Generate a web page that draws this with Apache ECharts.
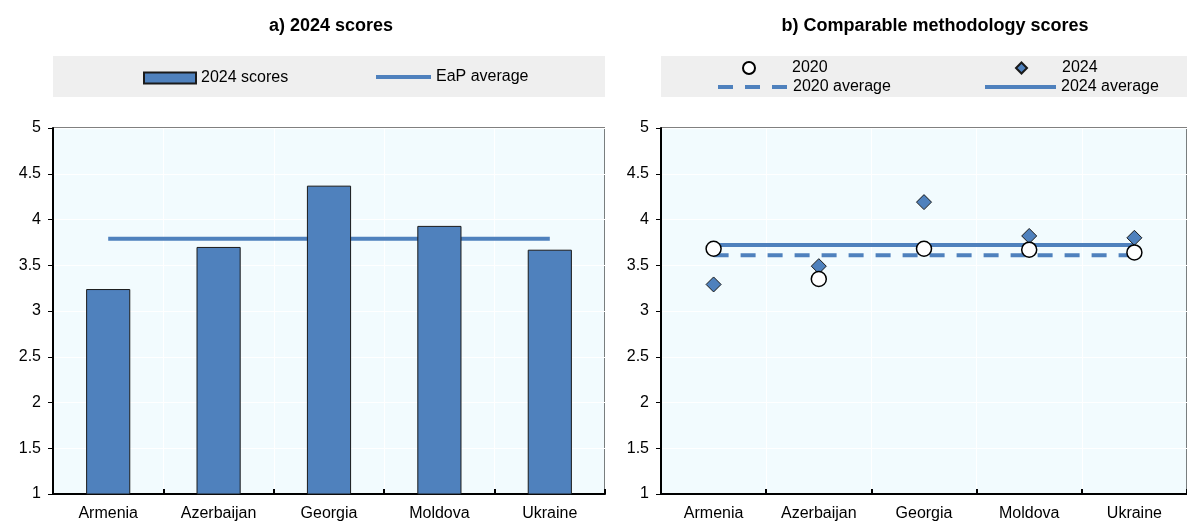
<!DOCTYPE html>
<html>
<head>
<meta charset="utf-8">
<script src="https://cdn.jsdelivr.net/npm/echarts@6/dist/echarts.min.js"></script>
<style>
html,body{margin:0;padding:0;background:#fff;}
#chart{width:1187px;height:522px;}
</style>
</head>
<body>
<div id="chart"></div>
<script>
const categories = ['Armenia', 'Azerbaijan', 'Georgia', 'Moldova', 'Ukraine'];
const scores2024 = [3.24, 3.70, 4.37, 3.93, 3.67];
const eapAverage = 3.79;
const comparable2020 = [3.68, 3.35, 3.68, 3.67, 3.64];
const comparable2024 = [3.29, 3.49, 4.19, 3.82, 3.80];
const average2020 = 3.61;
const average2024 = 3.72;
const yMin = 1, yMax = 5, yInterval = 0.5;
const titleA = 'a) 2024 scores';
const titleB = 'b) Comparable methodology scores';

const FONT = "'Liberation Sans', Arial, sans-serif";
const BLUE = '#4F81BD';
const PLOT_BG = '#F2FBFE';
const LEGEND_BG = '#EFEFEF';
const DASH = [15, 12];

const chart = echarts.init(document.getElementById('chart'), null, {renderer: 'canvas'});

function yAxis(gi) {
  return {
    type: 'value', gridIndex: gi, min: yMin, max: yMax, interval: yInterval,
    axisLine: {show: true, lineStyle: {color: '#000', width: 2}},
    axisTick: {show: true, inside: false, length: 5, lineStyle: {color: '#000', width: 1}},
    axisLabel: {color: '#000', fontSize: 16, fontFamily: FONT, margin: 12},
    splitLine: {show: true, lineStyle: {color: '#fff', width: 1}}
  };
}
function xAxis(gi) {
  return {
    type: 'category', gridIndex: gi, data: categories, boundaryGap: true,
    axisLine: {show: true, lineStyle: {color: '#000', width: 2}},
    axisTick: {show: true, inside: true, length: 5, interval: 0, lineStyle: {color: '#000', width: 2}},
    axisLabel: {color: '#000', fontSize: 16, fontFamily: FONT, margin: 12, interval: 0},
    splitLine: {show: true, interval: 0, lineStyle: {color: '#fff', width: 1}}
  };
}
function legend(name, icon, left, top, w, h, textPad, extra) {
  const item = icon ? {name: name, icon: icon} : {name: name};
  return Object.assign({
    data: [item], left: left, top: top, padding: 0,
    itemWidth: w, itemHeight: h,
    textStyle: {color: '#000', fontSize: 16, fontFamily: FONT, padding: [0, 0, 0, textPad]},
    selectedMode: false
  }, extra || {});
}

const option = {
  animation: false,
  backgroundColor: '#fff',
  graphic: [
    {type: 'rect', shape: {x: 53, y: 56, width: 552, height: 41}, style: {fill: LEGEND_BG}, z: -1},
    {type: 'rect', shape: {x: 661, y: 56, width: 526, height: 41}, style: {fill: LEGEND_BG}, z: -1},
    {type: 'text', x: 331, y: 26, style: {text: titleA, textAlign: 'center', textVerticalAlign: 'middle', font: "bold 18px " + FONT, fill: '#000'}},
    {type: 'text', x: 935, y: 26, style: {text: titleB, textAlign: 'center', textVerticalAlign: 'middle', font: "bold 18px " + FONT, fill: '#000'}}
  ],
  grid: [
    {left: 53, top: 128, width: 552, height: 369, show: true, backgroundColor: PLOT_BG, borderColor: '#000', borderWidth: 1},
    {left: 661, top: 128, width: 552, height: 369, show: true, backgroundColor: PLOT_BG, borderColor: '#000', borderWidth: 1}
  ],
  xAxis: [xAxis(0), xAxis(1)],
  yAxis: [yAxis(0), yAxis(1)],
  legend: [
    legend('2024 scores', 'rect', 143, 70, 52, 11, 0),
    legend('EaP average', 'rect', 376, 69, 55, 4, 0, {itemStyle: {borderWidth: 0}}),
    legend('2020', 'circle', 742, 60, 12, 12, 32),
    legend('2020 average', null, 716, 79, 70, 4, 0,
      {itemStyle: {opacity: 0}, lineStyle: {color: BLUE, width: 4, type: DASH, opacity: 1}}),
    legend('2024', 'diamond', 1015, 60, 11, 11, 30),
    legend('2024 average', 'rect', 985, 79, 71, 4, 0, {itemStyle: {borderWidth: 0}})
  ],
  series: [
    {name: 'EaP average', type: 'line', xAxisIndex: 0, yAxisIndex: 0, z: 2,
     data: categories.map(() => eapAverage), symbol: 'none', showSymbol: false,
     lineStyle: {color: BLUE, width: 4}, itemStyle: {color: BLUE}},
    {name: '2024 scores', type: 'bar', xAxisIndex: 0, yAxisIndex: 0, z: 3,
     data: scores2024, barWidth: '40%',
     itemStyle: {color: BLUE, borderColor: '#1a1a1a', borderWidth: 1}},
    {name: '2020 average', type: 'line', xAxisIndex: 1, yAxisIndex: 1, z: 2,
     data: categories.map(() => average2020), symbol: 'none', showSymbol: false,
     lineStyle: {color: BLUE, width: 4, type: DASH}, itemStyle: {color: BLUE}},
    {name: '2024 average', type: 'line', xAxisIndex: 1, yAxisIndex: 1, z: 2,
     data: categories.map(() => average2024), symbol: 'none', showSymbol: false,
     lineStyle: {color: BLUE, width: 4}, itemStyle: {color: BLUE}},
    {name: '2024', type: 'scatter', xAxisIndex: 1, yAxisIndex: 1, z: 4,
     data: comparable2024, symbol: 'diamond', symbolSize: 15,
     itemStyle: {color: BLUE, borderColor: '#1a1a1a', borderWidth: 1, opacity: 1}},
    {name: '2020', type: 'scatter', xAxisIndex: 1, yAxisIndex: 1, z: 5,
     data: comparable2020, symbol: 'circle', symbolSize: 15,
     itemStyle: {color: '#fff', borderColor: '#000', borderWidth: 1.5, opacity: 1}}
  ]
};
chart.setOption(option);
</script>
</body>
</html>
